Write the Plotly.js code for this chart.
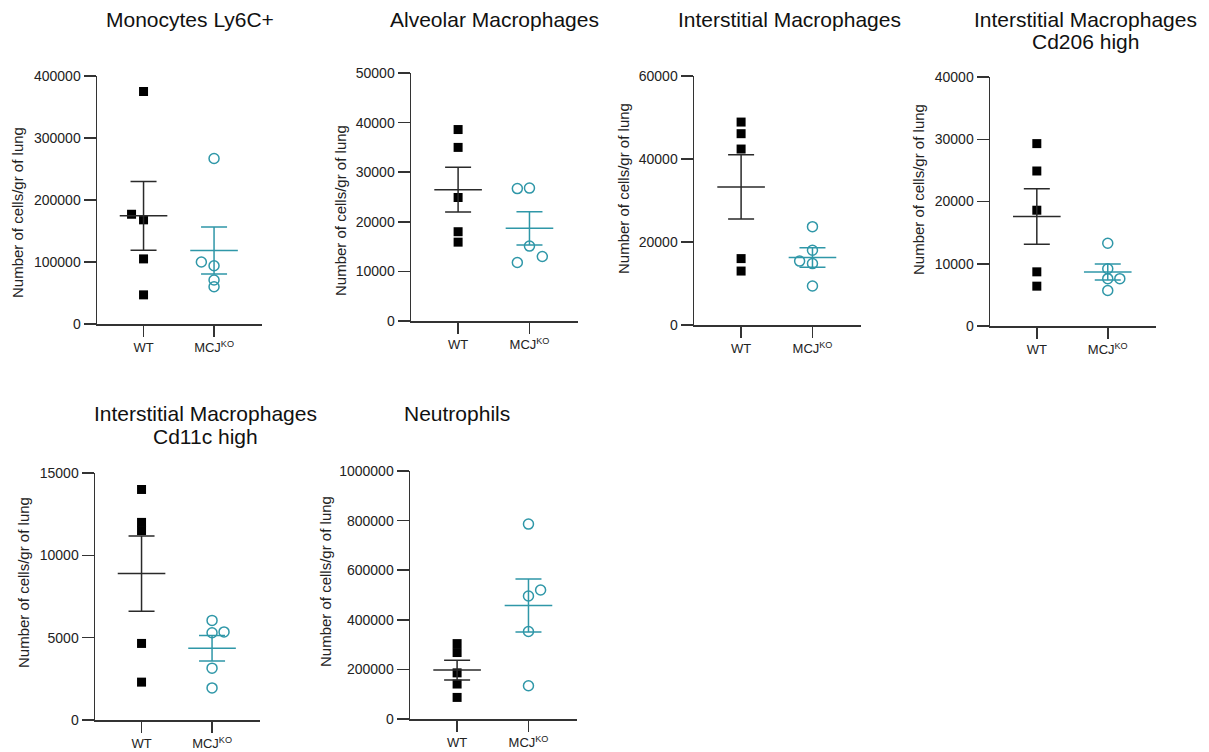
<!DOCTYPE html>
<html>
<head>
<meta charset="utf-8">
<script src="https://cdn.plot.ly/plotly-3.0.1.min.js"></script>
<style>html,body{margin:0;padding:0;background:#fff;}#chart{width:1209px;height:752px;}</style>
</head>
<body>
<div id="chart"></div>
<script>
// ---- Data ----
const groups = ["WT", "MCJ<sup>KO</sup>"];
const yAxisTitle = "Number of cells/gr of lung";

const monocytesWT = [375000, 177000, 168000, 105000, 47000];
const monocytesKO = [267000, 100000, 94000, 71000, 60000];

const alveolarWT = [38600, 35000, 24900, 18000, 15900];
const alveolarKO = [26700, 26800, 15100, 11800, 13000];

const interstitialWT = [48900, 46100, 42400, 16000, 13000];
const interstitialKO = [23700, 18000, 15400, 14800, 9400];

const cd206WT = [29300, 24900, 18600, 8700, 6400];
const cd206KO = [13300, 9200, 7600, 7600, 5700];

const cd11cWT = [14000, 12000, 11500, 4650, 2300];
const cd11cKO = [6050, 5300, 5350, 3150, 1950];

const neutrophilsWT = [304000, 268000, 186000, 141000, 87000];
const neutrophilsKO = [786000, 520000, 496000, 353000, 134000];

// horizontal jitter (in category units) so overlapping points stay visible
const jitterMonoWT = [0, -0.17, 0, 0, 0];
const jitterMonoKO = [0, -0.18, 0, 0, 0];
const jitterAlvKO = [-0.17, 0, 0, -0.17, 0.18];
const jitterIntKO = [0, 0, -0.18, 0, 0];
const jitterCd206KO = [0, 0, 0, 0.17, 0];
const jitterCd11cKO = [0, 0, 0.17, 0, 0];
const jitterNeuKO = [0, 0.17, 0, 0, 0];
const noJitter = [0, 0, 0, 0, 0];

// ---- Panel layout (pixel boxes) ----
const W = 1209, H = 752;
const panels = [
  {title: ["Monocytes Ly6C+"], tx: 190, ty: [20], wt: monocytesWT, ko: monocytesKO, jw: jitterMonoWT, jk: jitterMonoKO,
   ymax: 400000, dtick: 100000, x0: 97, x1: 262, y0: 76, y1: 324, ytx: 18, yty: 213},
  {title: ["Alveolar Macrophages"], tx: 494, ty: [20], wt: alveolarWT, ko: alveolarKO, jw: noJitter, jk: jitterAlvKO,
   ymax: 50000, dtick: 10000, x0: 411, x1: 578, y0: 73, y1: 321, ytx: 340, yty: 211},
  {title: ["Interstitial Macrophages"], tx: 790, ty: [20], wt: interstitialWT, ko: interstitialKO, jw: noJitter, jk: jitterIntKO,
   ymax: 60000, dtick: 20000, x0: 694, x1: 861, y0: 76, y1: 325, ytx: 623, yty: 189},
  {title: ["Interstitial Macrophages", "Cd206 high"], tx: 1085, ty: [20, 41], wt: cd206WT, ko: cd206KO, jw: noJitter, jk: jitterCd206KO,
   ymax: 40000, dtick: 10000, x0: 990, x1: 1156, y0: 77, y1: 326, ytx: 918, yty: 189},
  {title: ["Interstitial Macrophages", "Cd11c high"], tx: 205, ty: [414, 437], wt: cd11cWT, ko: cd11cKO, jw: noJitter, jk: jitterCd11cKO,
   ymax: 15000, dtick: 5000, x0: 95, x1: 260, y0: 473, y1: 720, ytx: 23, yty: 583},
  {title: ["Neutrophils"], tx: 457, ty: [414], wt: neutrophilsWT, ko: neutrophilsKO, jw: noJitter, jk: jitterNeuKO,
   ymax: 1000000, dtick: 200000, x0: 410, x1: 577, y0: 471, y1: 719, ytx: 325, yty: 582}
];

const BLACK = "#000000";
const DARK = "#2a2a2a";
const TEAL = "#2f97a8";
const FONT = "Liberation Sans, Arial, sans-serif";

function mean(a) { return a.reduce((s, v) => s + v, 0) / a.length; }
function sem(a) {
  const m = mean(a);
  const v = a.reduce((s, x) => s + (x - m) * (x - m), 0) / (a.length - 1);
  return Math.sqrt(v) / Math.sqrt(a.length);
}

const traces = [];
const layout = {
  width: W, height: H,
  margin: {l: 0, r: 0, t: 0, b: 0},
  paper_bgcolor: "#fff", plot_bgcolor: "#fff",
  showlegend: false,
  font: {family: FONT, color: "#222", size: 14},
  annotations: []
};

panels.forEach((p, i) => {
  const n = i + 1;
  const xa = "x" + (n === 1 ? "" : n), ya = "y" + (n === 1 ? "" : n);
  const xKey = "xaxis" + (n === 1 ? "" : n), yKey = "yaxis" + (n === 1 ? "" : n);

  layout[xKey] = {
    domain: [p.x0 / W, p.x1 / W], anchor: ya,
    range: [-0.66, 1.68], fixedrange: true,
    tickvals: [0, 1], ticktext: groups,
    showline: true, linecolor: "#333", linewidth: 1.5,
    ticks: "outside", ticklen: 11, tickwidth: 1.5, tickcolor: "#333",
    showgrid: false, zeroline: false,
    tickfont: {family: FONT, size: 13, color: "#222"}
  };
  layout[yKey] = {
    domain: [1 - p.y1 / H, 1 - p.y0 / H], anchor: xa,
    range: [0, p.ymax], fixedrange: true,
    tick0: 0, dtick: p.dtick, tickformat: "d",
    showline: true, linecolor: "#333", linewidth: 1.5,
    ticks: "outside", ticklen: 12, tickwidth: 1.5, tickcolor: "#333",
    showgrid: false, zeroline: false,
    tickfont: {family: FONT, size: 14, color: "#222"}
  };

  // WT points
  traces.push({
    type: "scatter", mode: "markers", xaxis: xa, yaxis: ya, cliponaxis: false,
    x: p.wt.map((v, k) => 0 + p.jw[k]), y: p.wt,
    marker: {symbol: "square", size: 9, color: BLACK}
  });
  // KO points
  traces.push({
    type: "scatter", mode: "markers", xaxis: xa, yaxis: ya, cliponaxis: false,
    x: p.ko.map((v, k) => 1 + p.jk[k]), y: p.ko,
    marker: {symbol: "circle-open", size: 10, color: TEAL, line: {width: 1.5, color: TEAL}}
  });
  // mean +/- SEM
  [[p.wt, 0, DARK], [p.ko, 1, TEAL]].forEach(([arr, xpos, col]) => {
    traces.push({
      type: "scatter", mode: "markers", xaxis: xa, yaxis: ya, cliponaxis: false,
      x: [xpos], y: [mean(arr)],
      marker: {symbol: "line-ew", size: 34, color: col, line: {width: 1.5, color: col}},
      error_y: {type: "data", array: [sem(arr)], visible: true, width: 13, thickness: 1.5, color: col}
    });
  });

  // panel title
  p.title.forEach((t, k) => {
    layout.annotations.push({
      xref: "paper", yref: "paper", x: p.tx / W, y: 1 - p.ty[k] / H,
      xanchor: "center", yanchor: "middle", showarrow: false,
      text: t, font: {family: FONT, size: 21, color: "#111"}
    });
  });
  // y-axis title
  layout.annotations.push({
    xref: "paper", yref: "paper", x: p.ytx / W, y: 1 - p.yty / H,
    xanchor: "center", yanchor: "middle", showarrow: false, textangle: -90,
    text: yAxisTitle, font: {family: FONT, size: 15, color: "#222"}
  });
});

Plotly.newPlot("chart", traces, layout, {staticPlot: true, displayModeBar: false});
</script>
</body>
</html>
